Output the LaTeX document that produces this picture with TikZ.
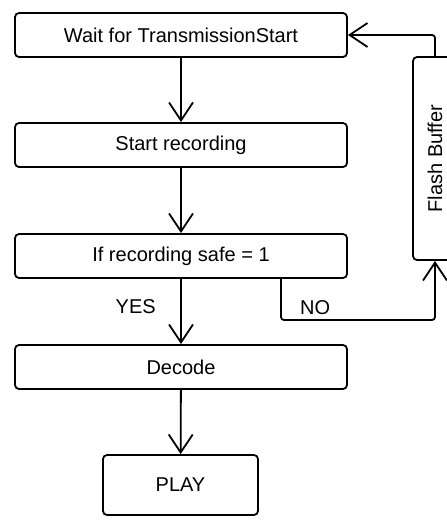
\documentclass[tikz,border=0pt]{standalone}
\usepackage{fontspec}
\setmainfont{Liberation Sans}
\usetikzlibrary{arrows.meta}
\begin{document}
\begin{tikzpicture}[x=1pt,y=-1pt,
	font=\fontsize{20}{24}\selectfont,
	etat/.style={draw,line width=1.8pt,rounded corners=4pt,minimum width=332pt,minimum height=44pt},
	fleche/.style={line width=1.8pt,-{Straight Barb[length=18pt,width=24pt]}}]
				\useasboundingbox (0,0) rectangle (447,520);
				%Noeuds du diagramme
				\node[etat] (W) at (181,35) {Wait for TransmissionStart};
				\node[etat] (S) at (181,145) {Start recording};
				\node[etat] (I) at (181,256) {If recording safe = 1};
				\node[etat] (D) at (181,367) {Decode};
				\node[etat,minimum width=155pt,minimum height=60pt] (P) at (180.5,485) {PLAY};
				\node[etat,minimum width=44pt,minimum height=203pt,
					label={[rotate=90]center:Flash Buffer}] (F) at (435,158.5) {};
				\coordinate (c1) at (435,320);
				%Aretes
				\draw[fleche] (W) -- (S);
				\draw[fleche] (S) -- (I);
				\draw[fleche] (I) -- (D) node[pos=0.43,left=21pt] {YES};
				\draw[fleche] (D) -- (P);
				\draw[fleche,rounded corners=3pt] ([xshift=100pt]I.south) |- node[pos=0.345,right=15pt] {NO} (c1) -- (F.south);
				\draw[fleche,rounded corners=3pt] (F.north) |- (W.east);
			\end{tikzpicture}
\end{document}
